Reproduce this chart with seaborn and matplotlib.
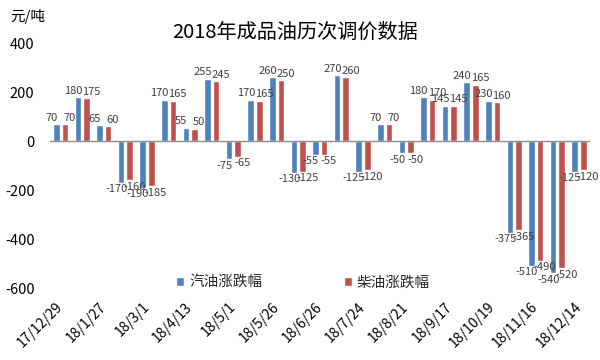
import matplotlib
matplotlib.use('Agg')
import matplotlib.pyplot as plt
import seaborn as sns
import pandas as pd

# 2018 price adjustments, yuan per tonne
gasoline = [70, 180, 65, -170, -190, 170, 55, 255, -75, 170, 260, -130, -55,
            270, -125, 70, -50, 180, 145, 240, 165, -375, -510, -540, -125]
diesel = [70, 175, 60, -160, -185, 165, 50, 245, -65, 165, 250, -125, -55,
          260, -120, 70, -50, 170, 145, 230, 160, -365, -490, -520, -120]
# labels as they appear on the picture (two were dragged around in the original)
gasoline_labels = [str(v) for v in gasoline]
diesel_labels = [str(v) for v in diesel]
gasoline_labels[20] = '230'
diesel_labels[19] = '165'

tick_labels = ['17/12/29', '18/1/27', '18/3/1', '18/4/13', '18/5/1', '18/5/26',
               '18/6/26', '18/7/24', '18/8/21', '18/9/17', '18/10/19',
               '18/11/16', '18/12/14']
series_names = ['汽油涨跌幅', '柴油涨跌幅']

blue = '#4F81BD'
red = '#C0504D'

sns.set_theme(style='white')
plt.rcParams['font.family'] = ['Noto Sans CJK SC', 'DejaVu Sans']
plt.rcParams['axes.unicode_minus'] = False

n = len(gasoline)
df = pd.DataFrame({
    'idx': list(range(n)) * 2,
    'value': gasoline + diesel,
    'series': [series_names[0]] * n + [series_names[1]] * n,
})

fig, ax = plt.subplots(figsize=(6, 3.6), dpi=100)
fig.subplots_adjust(left=0.083, right=0.983, top=0.880, bottom=0.2)

sns.barplot(data=df, x='idx', y='value', hue='series', hue_order=series_names,
            palette=[blue, red], width=0.8, gap=0.25, saturation=1,
            errorbar=None, ax=ax)

# labels sit side by side over each pair, nudged apart so they just touch
for container, labels, dx in zip(ax.containers, [gasoline_labels, diesel_labels], [-3.4, 3.4]):
    texts = ax.bar_label(container, labels=labels, padding=1, fontsize=8, color='#404040')
    for t in texts:
        x0, y0 = t.xyann
        t.xyann = (x0 + dx, y0)

ax.set_xlim(-0.5, n - 0.5)
ax.set_ylim(-600, 400)
ax.set_yticks(range(-600, 401, 200))
ax.set_xticks(range(0, n, 2))
ax.set_xticklabels(tick_labels, rotation=45, ha='right', va='center',
                   rotation_mode='anchor')
ax.axhline(0, color='#8c8c8c', lw=1)
for s in ax.spines.values():
    s.set_visible(False)
ax.tick_params(axis='both', length=0, colors='black')
ax.tick_params(axis='y', pad=11, labelsize=10.5)
ax.tick_params(axis='x', pad=12, labelsize=10)
ax.set_xlabel('')
ax.set_ylabel('')

handles, labels = ax.get_legend_handles_labels()
ax.legend(handles, labels, loc='center', bbox_to_anchor=(303 / 600, 1 - 283 / 360),
          bbox_transform=fig.transFigure, ncol=2, frameon=False, fontsize=10.5,
          handlelength=0.55, handleheight=0.55, handletextpad=0.35,
          columnspacing=5.6)

fig.text(295 / 600, 1 - 32 / 360, '2018年成品油历次调价数据', ha='center',
         va='center', fontsize=14.5, color='black')
fig.text(10 / 600, 1 - 17 / 360, '元/吨', ha='left', va='center',
         fontsize=10.5, color='black')

fig.savefig('out.png', dpi=100)
